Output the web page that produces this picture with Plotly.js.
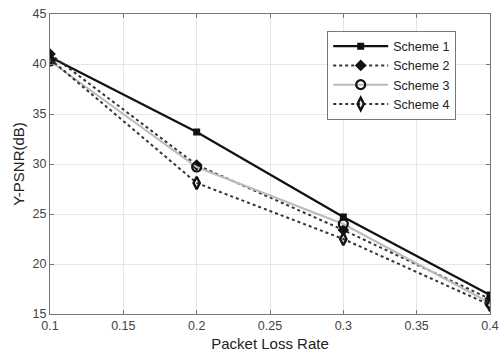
<!DOCTYPE html>
<html><head><meta charset="utf-8">
<script src="https://cdn.plot.ly/plotly-3.0.1.min.js"></script>
<style>html,body{margin:0;padding:0;background:#fff}#chart{width:500px;height:354px}</style>
</head><body><div id="chart"></div>
<script>
var lossRate = [0.1, 0.2, 0.3, 0.4];
var scheme1 = [40.7, 33.2, 24.7, 16.9];
var scheme2 = [41.0, 29.9, 23.4, 16.5];
var scheme3 = [40.3, 29.7, 24.0, 16.1];
var scheme4 = [40.5, 28.1, 22.5, 15.9];
var names = ['Scheme 1', 'Scheme 2', 'Scheme 3', 'Scheme 4'];
var xTicks = [0.1, 0.15, 0.2, 0.25, 0.3, 0.35, 0.4];
var xTickText = ['0.1', '0.15', '0.2', '0.25', '0.3', '0.35', '0.4'];
var yTicks = [15, 20, 25, 30, 35, 40, 45];

var traces = [
  {x: lossRate, y: scheme1, name: names[0], mode: 'lines+markers',
   line: {color: '#111', width: 2.2},
   marker: {symbol: 'square', size: 7, color: '#111'}},
  {x: lossRate, y: scheme2, name: names[1], mode: 'lines+markers',
   line: {color: '#333', width: 2, dash: 'dot'},
   marker: {symbol: 'diamond', size: 9, color: '#111'}},
  {x: lossRate, y: scheme3, name: names[2], mode: 'lines+markers',
   line: {color: '#bbb', width: 2},
   marker: {symbol: 'circle-open', size: 9, color: '#111', line: {width: 2.2, color: '#111'}}},
  {x: lossRate, y: scheme4, name: names[3], mode: 'lines+markers',
   line: {color: '#333', width: 2, dash: 'dot'},
   marker: {symbol: 'diamond-tall-open', size: 9, color: '#111', line: {width: 2.4, color: '#111'}}}
];

var layout = {
  width: 500, height: 354,
  margin: {l: 50, r: 10, t: 14, b: 40},
  paper_bgcolor: '#fff', plot_bgcolor: '#fff',
  font: {family: 'Liberation Sans, Arial, sans-serif', color: '#333', size: 12},
  showlegend: true,
  legend: {x: 0.63, y: 0.945, xanchor: 'left', yanchor: 'top',
    bgcolor: '#fff', bordercolor: '#777', borderwidth: 1,
    font: {size: 12.5, color: '#222'}, tracegroupgap: 0, itemwidth: 55},
  xaxis: {range: [0.1, 0.4], tickvals: xTicks, ticktext: xTickText,
    showgrid: true, gridcolor: '#e6e6e6', zeroline: false,
    showline: true, linecolor: '#777', linewidth: 1, mirror: 'ticks',
    ticks: 'inside', ticklen: 4, tickcolor: '#777',
    tickfont: {size: 12.5, color: '#444'},
    title: {text: 'Packet Loss Rate', font: {size: 15, color: '#222'}, standoff: 6}},
  yaxis: {range: [15, 45], tickvals: yTicks,
    showgrid: true, gridcolor: '#e6e6e6', zeroline: false,
    showline: true, linecolor: '#777', linewidth: 1, mirror: 'ticks',
    ticks: 'inside', ticklen: 4, tickcolor: '#777',
    tickfont: {size: 12.5, color: '#444'},
    title: {text: 'Y-PSNR(dB)', font: {size: 15, color: '#222'}, standoff: 4}}
};

Plotly.newPlot('chart', traces, layout, {displayModeBar: false, staticPlot: true});
</script></body></html>
